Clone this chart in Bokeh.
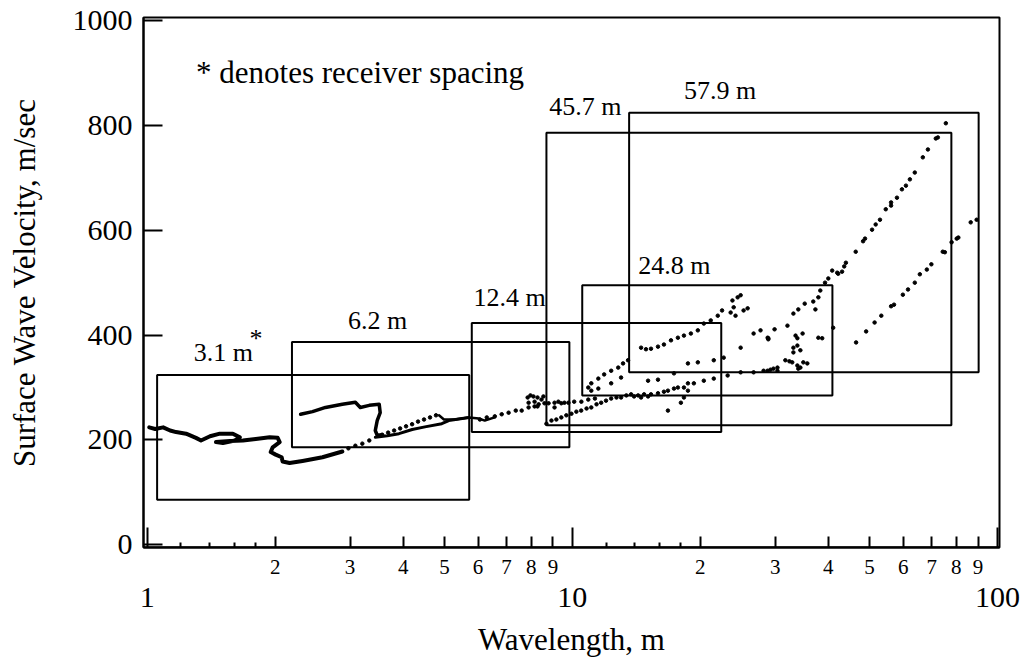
from bokeh.plotting import figure
from bokeh.models import FixedTicker, LogAxis, CustomJSTickFormatter, Label
from bokeh.embed import file_html
from bokeh.resources import INLINE

FONT = "Liberation Serif"

# ---------------- data (wavelength m, velocity m/s) ----------------
# receiver-spacing windows
spacing_labels = ["3.1 m", "6.2 m", "12.4 m", "24.8 m", "45.7 m", "57.9 m"]
box_left = [1.055, 2.19, 5.80, 10.55, 8.69, 13.6]
box_right = [5.72, 9.84, 22.4, 40.9, 77.9, 90.3]
box_top = [324, 387, 423, 495, 786, 824]
box_bottom = [86, 186, 215, 285, 228, 329]

# 3.1 m spacing dispersion curve (thick trace)
wl_31 = [1.011, 1.044, 1.090, 1.132, 1.169, 1.234, 1.302, 1.338, 1.405, 1.482,
         1.590, 1.651, 1.607, 1.507, 1.451, 1.565, 1.679, 1.800, 1.941, 2.027,
         2.049, 1.973, 1.952, 2.005, 2.071, 2.082, 2.162, 2.319, 2.584, 2.877]
v_31 = [224, 221, 224, 218, 215, 212, 204, 199, 207, 212,
        212, 205, 199, 194, 196, 198, 199, 202, 205, 204,
        196, 186, 177, 172, 167, 159, 156, 160, 167, 178]
wl_31_dots = [2.973, 3.087, 3.206, 3.329]
v_31_dots = [184, 189, 193, 199]
wl_31b = [3.44, 3.67, 3.91, 4.20, 4.50, 4.93, 5.12, 5.71]
v_31b = [205, 208, 212, 220, 225, 231, 237, 243]

# 6.2 m spacing
wl_62 = [2.295, 2.448, 2.626, 2.877, 3.087, 3.171, 3.329, 3.513, 3.532, 3.475, 3.439, 3.475, 3.570]
v_62 = [249, 254, 262, 268, 272, 262, 266, 268, 252, 237, 218, 209, 210]
wl_62_dots = [3.570, 3.687, 3.809, 3.935, 4.063, 4.198, 4.335, 4.478, 4.626, 4.778]
v_62_dots = [210, 214, 218, 222, 226, 230, 235, 239, 243, 247]
wl_62b = [4.856, 4.988, 5.292, 5.706, 6.026, 6.223, 6.567]
v_62b = [247, 239, 239, 243, 241, 237, 243]

# 12.4 m spacing
wl_124 = [6.06, 6.29, 6.57, 6.82, 7.08, 7.36, 7.60, 7.89, 8.15, 8.33, 8.60, 8.79, 9.08, 9.27, 9.58,
          9.79, 10.1, 10.5, 10.9, 11.3, 7.85, 7.97, 8.10, 8.28, 8.46, 7.89, 8.15, 8.28, 8.55]
v_124 = [239, 243, 245, 249, 252, 256, 256, 262, 264, 268, 270, 270, 271, 273, 271,
         271, 273, 273, 277, 279, 281, 285, 283, 281, 277, 271, 273, 264, 283]

# 24.8 m spacing
wl_248 = [10.90, 11.08, 11.51, 11.88, 12.34, 12.82, 13.16, 13.52, 11.08, 11.51, 12.34, 13.02,
          14.51, 14.9, 15.31, 15.90, 16.42, 17.06, 17.71, 18.30, 19.00, 19.73, 20.38, 21.16,
          21.98, 22.5, 23.57, 23.96, 24.48, 24.88, 25.28, 25.84, 23.8, 24.2,
          16.78, 18.00, 18.30, 18.70, 41.07]
v_248 = [300, 308, 317, 325, 332, 338, 346, 352, 294, 298, 308, 319,
         376, 373, 374, 378, 382, 390, 395, 399, 403, 409, 422, 428,
         437, 447, 443, 453, 472, 476, 447, 451, 466, 437,
         256, 271, 281, 294, 414]

# 45.7 m spacing
wl_457 = [8.69, 8.93, 9.17, 9.42, 9.68, 9.95, 10.22, 10.49, 10.8, 11.08,
          11.4, 11.69, 12.0, 12.34, 12.7, 13.02, 13.4, 13.75, 13.97, 14.28,
          14.51, 14.75, 15.07, 15.31, 15.90, 16.42, 16.78, 17.34, 17.71, 18.30,
          18.70, 19.31, 20.38, 21.51, 23.19, 24.88, 26.69, 28.78, 30.37, 9.08, 9.42,
          15.07, 15.90, 17.34, 18.70, 19.73, 21.51, 22.70, 24.88, 26.69, 27.71,
          28.9, 29.9, 32.06, 33.11, 34.0, 35.2, 36.87, 37.3, 37.9, 38.30,
          39.3, 40.0, 40.85, 41.98, 42.2, 43.1, 43.6, 44.0, 46.4, 48.29,
          48.8, 50.7, 51.7, 52.92, 54.6, 56.2, 56.2, 58.01, 59.6, 60.9,
          62.22, 63.9, 66.74, 68.6, 71.6, 72.4, 75.6]
v_457 = [231, 237, 239, 243, 247, 250, 254, 256, 260, 262,
         268, 271, 275, 279, 281, 281, 285, 287, 283, 285,
         281, 287, 283, 287, 289, 292, 294, 298, 300, 300,
         308, 308, 313, 317, 323, 329, 329, 332, 332, 262, 270,
         313, 315, 327, 346, 348, 352, 357, 376, 403, 409,
         394, 411, 418, 441, 449, 460, 464, 449, 472, 485,
         500, 508, 523, 519, 517, 521, 531, 538, 559, 579,
         584, 601, 611, 620, 640, 647, 653, 662, 678, 685,
         697, 710, 739, 754, 775, 777, 804]

# 57.9 m spacing
wl_579 = [28.8, 28.9, 33.5, 33.83, 34.8, 33.11, 33.83, 34.38, 33.11, 37.9,
          38.7, 31.7, 32.4, 32.9, 33.83, 34.38, 35.70, 34.94, 34.0, 28.17,
          29.24, 29.72, 30.37,
          46.5, 49.1, 51.4, 53.3, 56.2, 57.1, 59.9, 61.6, 63.9, 65.67,
          68.2, 69.9, 74.35, 75.2, 78.0, 80.18, 80.9, 86.5, 89.32]
v_579 = [395, 392, 399, 394, 403, 376, 380, 371, 367, 395,
         394, 352, 350, 348, 342, 338, 346, 348, 336, 332,
         334, 336, 338,
         386, 407, 424, 437, 455, 458, 477, 487, 500, 516,
         525, 535, 559, 558, 577, 584, 586, 615, 620]

x_major_ticks = [1, 10, 100]
x_minor_labeled = [2, 3, 4, 5, 6, 7, 8, 9, 20, 30, 40, 50, 60, 70, 80, 90]
x_small_ticks = [1.2, 1.4, 1.6, 1.8, 12, 14, 16, 18]
y_ticks = [0, 200, 400, 600, 800, 1000]

# label placement (annotation positions, data units)
label_x = [1.286, 2.968, 5.853, 14.28, 8.82, 18.30]
label_y = [367, 427, 472, 533, 836, 867]

X0, X1 = 0.980, 101.1
Y0, Y1 = -5.1, 1005.7

# ---------------- figure ----------------
p = figure(width=1023, height=660, x_axis_type="log",
           x_range=(X0, X1), y_range=(Y0, Y1),
           output_backend="svg", toolbar_location=None, title=None,
           min_border_left=143, min_border_right=24,
           min_border_top=17, min_border_bottom=113)
p.background_fill_color = "white"
p.border_fill_color = "white"
p.xgrid.visible = False
p.ygrid.visible = False
p.outline_line_color = "black"
p.outline_line_width = 2
p.outline_line_alpha = 1.0

# windows
p.quad(left=box_left, right=box_right, top=box_top, bottom=box_bottom,
       fill_color=None, line_color="black", line_width=2)

# traces
p.line(wl_31, v_31, line_width=4, color="black", line_join="round", line_cap="round")
p.line(wl_31b, v_31b, line_width=3, color="black", line_join="round", line_cap="round")
p.line(wl_62, v_62, line_width=3.5, color="black", line_join="round", line_cap="round")
p.line(wl_62b, v_62b, line_width=2.5, color="black", line_join="round", line_cap="round")
for wl, v in [(wl_31_dots, v_31_dots), (wl_62_dots, v_62_dots), (wl_124, v_124),
              (wl_248, v_248), (wl_457, v_457), (wl_579, v_579)]:
    p.scatter(wl, v, size=3.5, marker="circle", color="black")

# text
for t, x, y in zip(spacing_labels, label_x, label_y):
    p.add_layout(Label(x=x, y=y, text=t, text_font=FONT, text_font_size="26px",
                       text_align="left", text_baseline="middle", text_color="black"))
p.add_layout(Label(x=1.740, y=394, text="*", text_font=FONT, text_font_size="26px",
                   text_align="left", text_baseline="middle", text_color="black"))
p.add_layout(Label(x=1.303, y=901, text="* denotes receiver spacing", text_font=FONT,
                   text_font_size="31px", text_align="left", text_baseline="middle",
                   text_color="black"))

# x axis A (closest): labelled intermediate ticks 2..9
xa = p.xaxis[0]
xa.ticker = FixedTicker(ticks=x_minor_labeled, minor_ticks=x_small_ticks)
xa.formatter = CustomJSTickFormatter(code="return (tick >= 10 ? tick / 10 : tick).toFixed(0)")
xa.major_tick_in = 11
xa.major_tick_out = 0
xa.minor_tick_in = 5
xa.minor_tick_out = 0
xa.major_tick_line_width = 2
xa.minor_tick_line_width = 2
xa.major_tick_line_color = "black"
xa.minor_tick_line_color = "black"
xa.axis_line_width = 2
xa.axis_line_color = "black"
xa.major_label_text_font = FONT
xa.major_label_text_font_size = "21px"
xa.major_label_text_color = "black"
xa.major_label_standoff = 12

# x axis B (second): decade labels and axis title, no ticks
xb = LogAxis(ticker=FixedTicker(ticks=x_major_ticks, minor_ticks=[]),
             formatter=CustomJSTickFormatter(code="return tick.toFixed(0)"))
xb.axis_line_color = None
xb.major_tick_line_color = None
xb.minor_tick_line_color = None
xb.major_tick_in = 0
xb.major_tick_out = 0
xb.minor_tick_in = 0
xb.minor_tick_out = 0
xb.major_label_text_font = FONT
xb.major_label_text_font_size = "30px"
xb.major_label_text_color = "black"
xb.major_label_standoff = 11
xb.axis_label = "Wavelength, m"
xb.axis_label_text_font = FONT
xb.axis_label_text_font_size = "31px"
xb.axis_label_text_font_style = "normal"
xb.axis_label_text_color = "black"
xb.axis_label_standoff = 12
p.add_layout(xb, "below")

# x axis C (fixed at frame bottom): long decade ticks
xc = LogAxis(fixed_location=Y0, ticker=FixedTicker(ticks=x_major_ticks, minor_ticks=[]),
             formatter=CustomJSTickFormatter(code="return ''"))
xc.major_tick_in = 20
xc.major_tick_out = 0
xc.minor_tick_in = 0
xc.minor_tick_out = 0
xc.major_tick_line_width = 2
xc.major_tick_line_color = "black"
xc.axis_line_width = 2
xc.axis_line_color = "black"
p.add_layout(xc, "below")

# y axis
ya = p.yaxis[0]
ya.ticker = FixedTicker(ticks=y_ticks, minor_ticks=[])
ya.major_tick_in = 19
ya.major_tick_out = 0
ya.minor_tick_in = 0
ya.minor_tick_out = 0
ya.major_tick_line_width = 2
ya.major_tick_line_color = "black"
ya.axis_line_width = 2
ya.axis_line_color = "black"
ya.major_label_text_font = FONT
ya.major_label_text_font_size = "30px"
ya.major_label_text_color = "black"
ya.major_label_standoff = 11
ya.axis_label = "Surface Wave Velocity, m/sec"
ya.axis_label_text_font = FONT
ya.axis_label_text_font_size = "31px"
ya.axis_label_text_font_style = "normal"
ya.axis_label_text_color = "black"
ya.axis_label_standoff = 28

open("out.html", "w").write(file_html(p, INLINE))
